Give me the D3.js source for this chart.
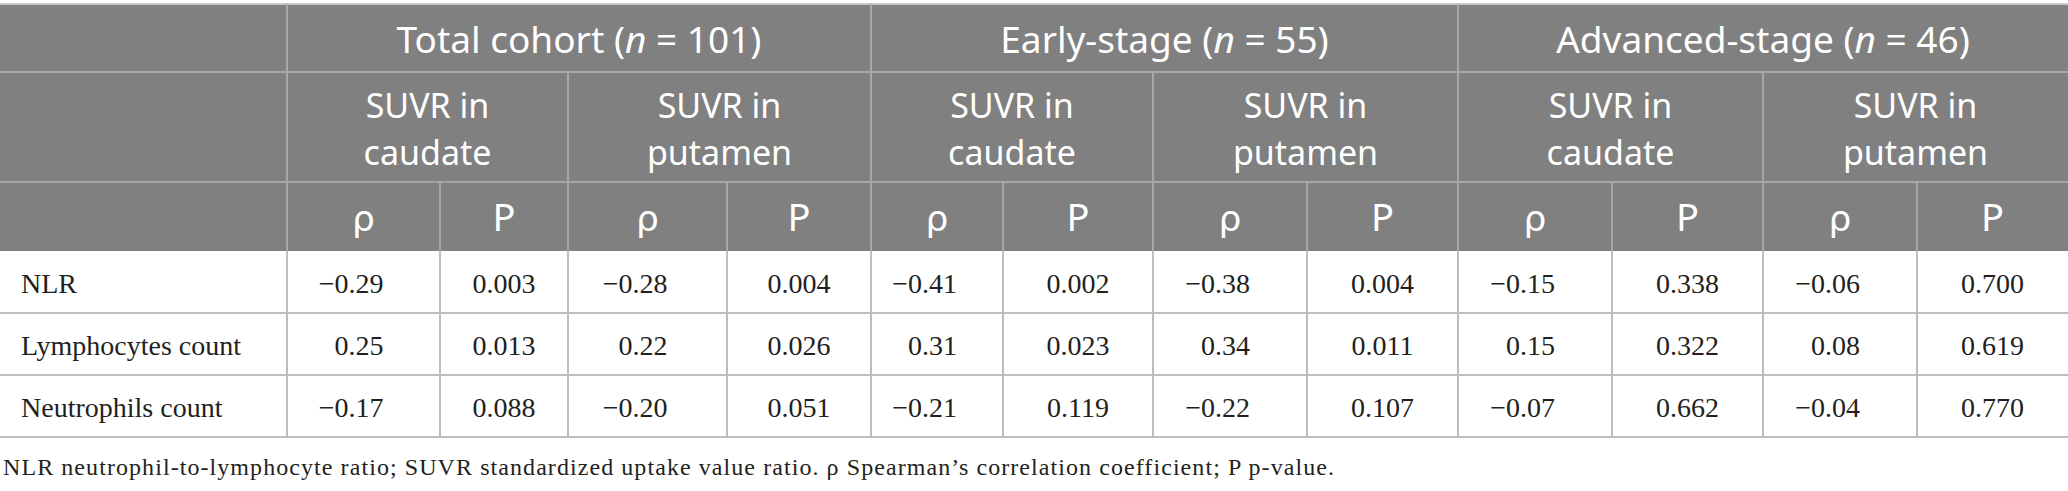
<!DOCTYPE html>
<html>
  <head>
    <title>Table | D3</title>
    <script src="https://d3js.org/d3.v7.min.js" charset="utf-8"></script>
    <style>
    body {
        margin: 0;
        background: #fff;
    }
    .head {
        font-family: "Noto Sans", sans-serif;
        fill: #fff;
    }
    .cell {
        font-family: "Liberation Serif", "Times New Roman", serif;
        fill: #231f20;
    }
    </style>
  </head>

  <body>
    <script>
var groups = ["Total cohort", "Early-stage", "Advanced-stage"];
var groupN = [101, 55, 46];
var regions = [["SUVR in", "caudate"], ["SUVR in", "putamen"]];
var stats = ["ρ", "P"];
var rowLabels = ["NLR", "Lymphocytes count", "Neutrophils count"];

var nlrRho = [-0.29, -0.28, -0.41, -0.38, -0.15, -0.06];
var nlrP   = [0.003, 0.004, 0.002, 0.004, 0.338, 0.700];
var lymRho = [0.25, 0.22, 0.31, 0.34, 0.15, 0.08];
var lymP   = [0.013, 0.026, 0.023, 0.011, 0.322, 0.619];
var neuRho = [-0.17, -0.20, -0.21, -0.22, -0.07, -0.04];
var neuP   = [0.088, 0.051, 0.119, 0.107, 0.662, 0.770];

var footnote = "NLR neutrophil-to-lymphocyte ratio; SUVR standardized uptake value ratio. ρ Spearman’s correlation coefficient; P p-value.";

var rhoRows = [nlrRho, lymRho, neuRho];
var pRows = [nlrP, lymP, neuP];

// layout
var width = 2068;
var height = 491;
var colEdges = [0, 287, 440, 568, 727, 871, 1003, 1153, 1307, 1458, 1612, 1763, 1917, 2068];
var headTop = 4, head1 = 72, head2 = 182, headBottom = 251, tableBottom = 437;
var headFill = "#808080";
var headLine = "#a6a6a6";
var bodyLine = "#bdbdbd";

var svg = d3.select("body")
  .append("svg")
  .attr("width", width)
  .attr("height", height);

// leaf columns: one per (group, region, stat)
var leaves = [];
groups.forEach(function(g, gi){
  regions.forEach(function(r, ri){
    stats.forEach(function(s, si){
      leaves.push({g: gi, r: ri, s: si, k: leaves.length});
    });
  });
});

var colX = function(i){ return colEdges[i]; };
var leafX0 = function(d){ return colX(d.k + 1); };
var leafX1 = function(d){ return colX(d.k + 2); };

var y = d3.scaleBand()
  .domain(rowLabels)
  .range([headBottom, tableBottom]);

// header background
svg.append("rect")
  .attr("x", 0)
  .attr("y", headTop)
  .attr("width", width)
  .attr("height", headBottom - headTop)
  .attr("fill", headFill);

var lines = svg.append("g");

// header horizontal rules
[head1, head2].forEach(function(yy){
  lines.append("line")
    .attr("x1", 0).attr("x2", width)
    .attr("y1", yy).attr("y2", yy)
    .attr("stroke", headLine).attr("stroke-width", 2);
});
lines.append("line")
  .attr("x1", 0).attr("x2", width)
  .attr("y1", headTop).attr("y2", headTop)
  .attr("stroke", "#c8c8c8").attr("stroke-width", 2);

// header vertical rules
leaves.forEach(function(d){
  var top = head2;
  if (d.s === 0) top = d.r === 0 ? headTop : head1;
  lines.append("line")
    .attr("x1", leafX0(d)).attr("x2", leafX0(d))
    .attr("y1", top).attr("y2", headBottom)
    .attr("stroke", headLine).attr("stroke-width", 2);
});

// group titles
groups.forEach(function(g, gi){
  var x0 = colX(gi * 4 + 1), x1 = colX(gi * 4 + 5);
  var t = svg.append("text")
    .attr("class", "head")
    .attr("x", (x0 + x1) / 2)
    .attr("y", 53)
    .attr("text-anchor", "middle")
    .attr("font-size", 37);
  t.append("tspan").text(g + " (");
  t.append("tspan").attr("font-style", "italic").text("n");
  t.append("tspan").text(" = " + groupN[gi] + ")");
});

// region titles, two lines each
leaves.filter(function(d){ return d.s === 0; }).forEach(function(d){
  var cx = (colX(d.k + 1) + colX(d.k + 3)) / 2;
  var t = svg.append("text")
    .attr("class", "head")
    .attr("text-anchor", "middle")
    .attr("font-size", 34);
  regions[d.r].forEach(function(line, li){
    t.append("tspan")
      .attr("x", cx)
      .attr("y", 118 + li * 47)
      .text(line);
  });
});

// stat titles
leaves.forEach(function(d){
  svg.append("text")
    .attr("class", "head")
    .attr("x", (leafX0(d) + leafX1(d)) / 2)
    .attr("y", 231)
    .attr("text-anchor", "middle")
    .attr("font-size", d.s === 0 ? 36 : 38)
    .style("font-family", d.s === 0 ? "'DejaVu Sans', sans-serif" : null)
    .text(stats[d.s]);
});

// body rules
rowLabels.forEach(function(r){
  lines.append("line")
    .attr("x1", 0).attr("x2", width)
    .attr("y1", y(r) + y.bandwidth()).attr("y2", y(r) + y.bandwidth())
    .attr("stroke", bodyLine).attr("stroke-width", 2);
});
leaves.forEach(function(d){
  lines.append("line")
    .attr("x1", leafX0(d)).attr("x2", leafX0(d))
    .attr("y1", headBottom).attr("y2", tableBottom)
    .attr("stroke", bodyLine).attr("stroke-width", 2);
});
lines.raise();

// body text
var fmtRho = d3.format(".2f");
var fmtP = d3.format(".3f");

rowLabels.forEach(function(r, ri){
  var base = y(r) + y.bandwidth() / 2 + 11;
  svg.append("text")
    .attr("class", "cell")
    .attr("x", 21)
    .attr("y", base)
    .attr("font-size", 28)
    .text(r);

  leaves.forEach(function(d){
    var col = d.g * 2 + d.r;
    var cx = (leafX0(d) + leafX1(d)) / 2;
    var isRho = d.s === 0;
    svg.append("text")
      .attr("class", "cell")
      .attr("x", isRho ? cx + 20 : cx)
      .attr("y", base)
      .attr("text-anchor", isRho ? "end" : "middle")
      .attr("font-size", 28)
      .text(isRho ? fmtRho(rhoRows[ri][col]) : fmtP(pRows[ri][col]));
  });
});

// footnote
svg.append("text")
  .attr("class", "cell")
  .attr("x", 3)
  .attr("y", 475)
  .attr("font-size", 24)
  .attr("textLength", 1331)
  .attr("lengthAdjust", "spacing")
  .text(footnote);

    </script>
  </body>
</html>
